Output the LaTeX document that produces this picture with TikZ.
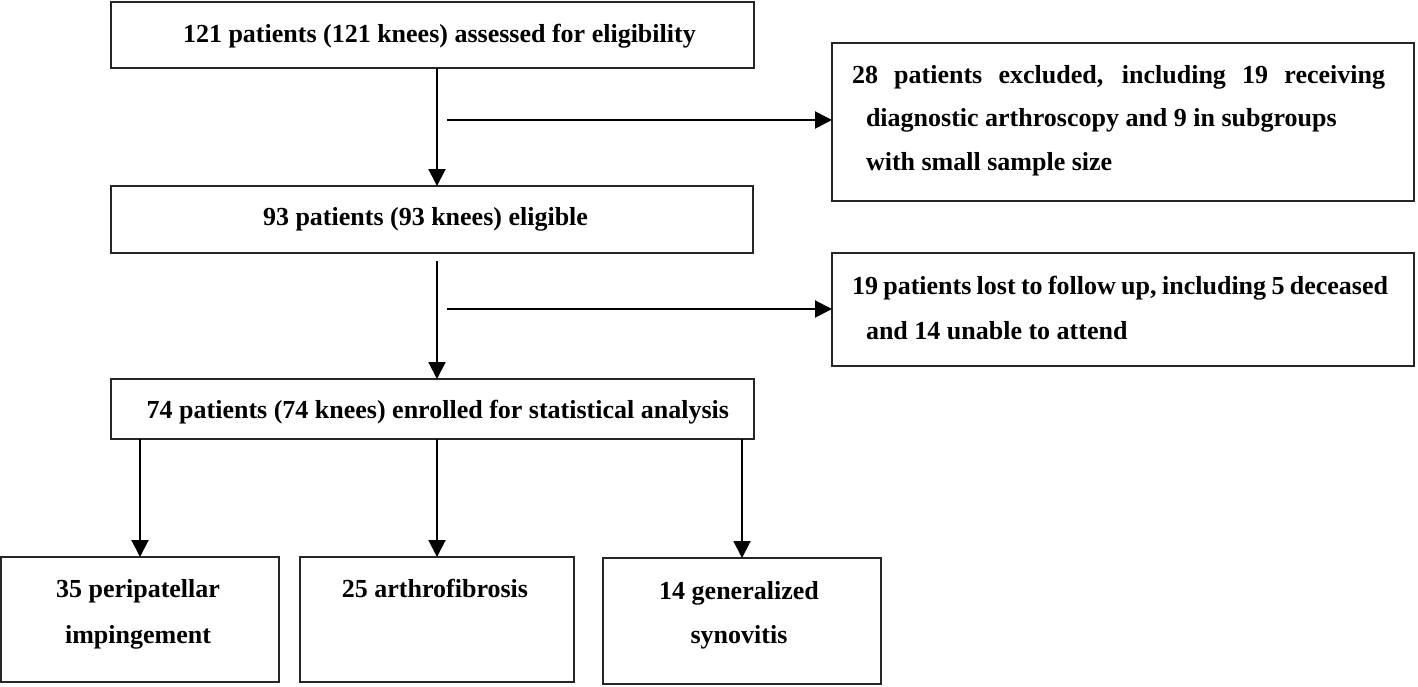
\documentclass[tikz,border=0pt]{standalone}
\usepackage{fontspec}
\setmainfont{Liberation Serif}
\usetikzlibrary{arrows.meta}
\begin{document}
\begin{tikzpicture}[x=1bp,y=-1bp,
  box/.style={draw=black!85, line width=2bp, inner sep=0pt, outer sep=0pt, rectangle},
  lbl/.style={inner sep=0pt, outer sep=0pt, anchor=base west, font=\fontsize{26bp}{30bp}\selectfont\bfseries},
  clbl/.style={inner sep=0pt, outer sep=0pt, anchor=base, font=\fontsize{26bp}{30bp}\selectfont\bfseries},
  arr/.style={draw=black, line width=2bp, -{Triangle[length=17bp,width=17bp]}}]
\useasboundingbox (0,0) rectangle (1418,687);
% boxes
\node[box, minimum width=643bp, minimum height=66bp] (b1) at (432.5,35) {};
\node[box, minimum width=642bp, minimum height=67bp] (b2) at (432,219.5) {};
\node[box, minimum width=643bp, minimum height=60bp] (b3) at (432.5,409) {};
\node[box, minimum width=582bp, minimum height=158bp] (r1) at (1123,122) {};
\node[box, minimum width=582bp, minimum height=113bp] (r2) at (1123,309.5) {};
\node[box, minimum width=277bp, minimum height=125bp] (bA) at (140,619.5) {};
\node[box, minimum width=274bp, minimum height=125bp] (bB) at (437,619.5) {};
\node[box, minimum width=278bp, minimum height=126bp] (bC) at (742,621) {};
% texts
\node[lbl] (t1) at (183,43) {121 patients (121 knees) assessed for eligibility};
\node[lbl] (t2) at (263,225) {93 patients (93 knees) eligible};
\node[lbl] (t3) at (146.7,418) {74 patients (74 knees) enrolled for statistical analysis};
\node[lbl] (r1a) at (852,84) {\makebox[533bp][s]{28 patients excluded, including 19 receiving}};
\node[lbl] (r1b) at (866,127) {diagnostic arthroscopy and 9 in subgroups};
\node[lbl] (r1c) at (866,170) {with small sample size};
\node[lbl] (r2a) at (852,294) {\makebox[536bp][s]{19 patients lost to follow up, including 5 deceased}};
\node[lbl] (r2b) at (866,339) {and 14 unable to attend};
\node[clbl] (tA1) at (138,597) {35 peripatellar};
\node[clbl] (tA2) at (138,643) {impingement};
\node[clbl] (tB) at (435,597) {25 arthrofibrosis};
\node[clbl] (tC1) at (739,599) {14 generalized};
\node[clbl] (tC2) at (739,643) {synovitis};
% connectors
\coordinate (h1) at (447,120);
\coordinate (h2) at (447,309);
\draw[arr] (b1.south -| bB.north) -- (b2.north -| bB.north);
\draw[arr, shorten <=8bp] (b2.south -| bB.north) -- (b3.north -| bB.north);
\draw[arr] (h1) -- (h1 -| r1.west);
\draw[arr] (h2) -- (h2 -| r2.west);
\draw[arr] (b3.south -| bA.north) -- (bA.north);
\draw[arr] (b3.south -| bB.north) -- (bB.north);
\draw[arr] (b3.south -| bC.north) -- (bC.north);
\end{tikzpicture}
\end{document}
